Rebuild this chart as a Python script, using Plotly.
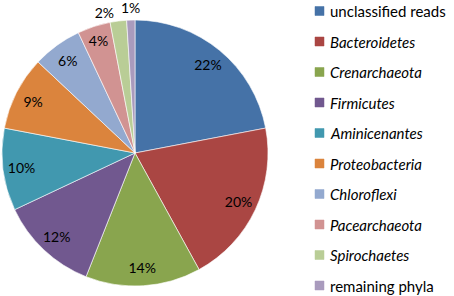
import math
import plotly.graph_objects as go

labels = ["unclassified reads", "Bacteroidetes", "Crenarchaeota", "Firmicutes",
          "Aminicenantes", "Proteobacteria", "Chloroflexi", "Pacearchaeota",
          "Spirochaetes", "remaining phyla"]
italic = [False, True, True, True, True, True, True, True, True, False]
values = [22, 20, 14, 12, 10, 9, 6, 4, 2, 1]
colors = ["#4572A7", "#AA4643", "#89A54E", "#71588F", "#4198AF",
          "#DB843D", "#93A9CF", "#D19392", "#B9CD96", "#A99BBD"]
positions = ["inside"] * 8 + ["outside"] * 2

W, H = 454, 296
FONT = "Lato"
dom_x = [2, 268]      # px
dom_y = [10, 276]     # px from bottom
domain = dict(x=[dom_x[0]/W, dom_x[1]/W], y=[dom_y[0]/H, dom_y[1]/H])

# last slice label is placed as an annotation beside the "2%" label (as in the original)
texts = [f"{v}%" for v in values]
texts[-1] = ""

fig = go.Figure()
# coloured slices
fig.add_trace(go.Pie(
    labels=labels, values=values, sort=False, direction="clockwise", rotation=0,
    marker=dict(colors=colors, line=dict(color="white", width=0.6)),
    textinfo="none", domain=domain, showlegend=False, hoverinfo="label+percent",
))
# transparent ring on top, carrying the percentage labels near the rim
fig.add_trace(go.Pie(
    labels=labels, values=values, sort=False, direction="clockwise", rotation=0,
    hole=0.72,
    marker=dict(colors=["rgba(0,0,0,0)"] * len(values), line=dict(width=0)),
    text=texts, textinfo="text", textposition=positions,
    insidetextorientation="horizontal", automargin=False,
    textfont=dict(family=FONT, size=14, color="#000000"),
    domain=domain, showlegend=False, hoverinfo="skip",
))

shapes, annotations = [], []

# label for the last (smallest) slice, placed radially just outside the pie
cx = (dom_x[0] + dom_x[1]) / 2
cy = (dom_y[0] + dom_y[1]) / 2
R = (dom_x[1] - dom_x[0]) / 2
total = sum(values)
mid = (total - values[-1] / 2) / total * 2 * math.pi
rr = R + 13
annotations.append(dict(xref="paper", yref="paper",
                        x=(cx + rr * math.sin(mid)) / W, y=(cy + rr * math.cos(mid)) / H,
                        xanchor="center", yanchor="middle", showarrow=False,
                        text=f"{values[-1]}%",
                        font=dict(family=FONT, size=14, color="#000000")))

top0 = 11    # px from top, first legend row centre
step = 30.5
for i, (lab, col, it) in enumerate(zip(labels, colors, italic)):
    yc = H - (top0 + i * step)
    shapes.append(dict(type="rect", xref="paper", yref="paper",
                       x0=315/W, x1=324/W, y0=(yc - 4.5)/H, y1=(yc + 4.5)/H,
                       fillcolor=col, line=dict(color=col, width=0.5)))
    annotations.append(dict(xref="paper", yref="paper", x=328/W, y=yc/H,
                            xanchor="left", yanchor="middle", showarrow=False,
                            text=f"<i>{lab}</i>" if it else lab,
                            font=dict(family=FONT, size=15, color="#000000")))

fig.update_layout(width=W, height=H,
                  margin=dict(l=0, r=0, t=0, b=0, pad=0, autoexpand=False),
                  paper_bgcolor="white", plot_bgcolor="white",
                  shapes=shapes, annotations=annotations)
fig.write_html("out.html", config={"displayModeBar": False},
               post_script="document.body.style.margin='0';document.body.style.padding='0';")
